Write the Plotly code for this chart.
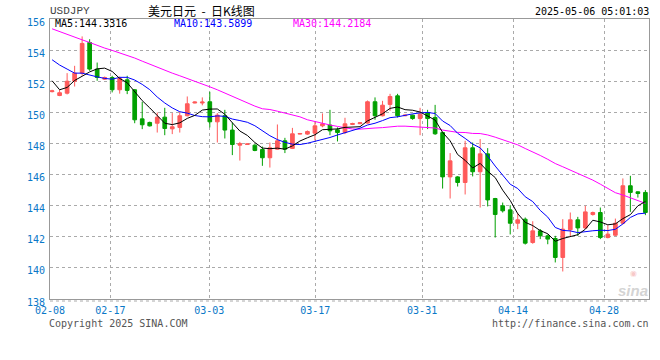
import plotly.graph_objects as go
import pandas as pd

# ---------------- data ----------------
opens = [151.33, 151.08, 151.23, 152.00, 152.52, 154.49, 152.78, 152.13, 152.24, 151.45,
         152.09, 151.45, 149.58, 149.35, 149.30, 149.69, 148.94, 149.03, 149.78, 150.60,
         150.60, 150.68, 149.39, 149.78, 148.86, 147.89, 147.93, 147.89, 147.61, 147.08,
         147.63, 148.17, 147.68, 148.60, 148.60, 148.66, 149.13, 149.18, 148.88, 148.70,
         149.22, 149.27, 149.31, 150.68, 149.78, 150.51, 151.06, 149.78, 149.82, 149.60,
         149.99, 149.67, 148.70, 145.85, 145.85, 145.49, 147.72, 146.18, 147.33, 144.46,
         143.99, 143.73, 142.87, 143.13, 141.63, 142.38, 142.06, 141.89, 140.67, 142.45,
         143.09, 142.57, 143.43, 143.56, 141.95, 142.10, 142.87, 145.28, 144.89, 144.85]
highs = [151.45, 151.45, 152.52, 152.99, 154.88, 154.70, 153.20, 152.30, 152.35, 152.30,
         152.35, 151.50, 150.68, 149.40, 149.99, 150.29, 149.95, 150.03, 151.02, 150.70,
         150.96, 151.32, 149.95, 150.16, 149.35, 148.10, 148.00, 147.95, 147.80, 148.06,
         149.22, 148.36, 149.00, 148.67, 148.83, 149.39, 149.93, 150.16, 149.03, 149.65,
         149.33, 149.36, 150.76, 150.96, 150.74, 151.19, 151.19, 149.86, 149.85, 150.29,
         150.16, 150.48, 148.75, 147.38, 145.90, 148.17, 148.06, 148.28, 147.70, 144.50,
         144.20, 144.03, 143.52, 143.24, 143.00, 142.50, 142.15, 142.06, 143.13, 143.56,
         143.28, 143.99, 143.62, 143.88, 142.75, 143.17, 145.75, 145.92, 144.92, 145.00]
lows = [151.28, 151.04, 151.15, 151.66, 152.35, 152.67, 152.03, 152.08, 151.28, 151.20,
        151.17, 149.30, 148.92, 149.09, 148.70, 148.53, 148.60, 148.70, 149.74, 150.58,
        150.45, 149.03, 148.06, 148.32, 147.25, 146.90, 147.90, 147.50, 146.56, 146.45,
        147.60, 147.38, 147.64, 148.58, 148.55, 148.19, 149.04, 148.53, 148.13, 148.60,
        149.18, 149.24, 149.27, 149.52, 149.74, 150.10, 149.67, 149.75, 149.52, 148.53,
        148.92, 148.55, 145.10, 144.46, 145.23, 144.72, 145.88, 143.88, 143.95, 141.95,
        143.56, 142.15, 142.49, 141.50, 141.55, 141.85, 141.52, 140.35, 139.77, 142.02,
        142.06, 142.50, 143.36, 141.85, 141.90, 142.05, 142.80, 143.60, 144.52, 143.39]
closes = [151.38, 151.26, 152.00, 152.52, 154.43, 152.78, 152.24, 152.24, 151.45, 152.18,
          151.41, 149.52, 149.20, 149.13, 149.69, 148.96, 149.07, 149.78, 150.55, 150.66,
          150.66, 149.39, 149.82, 148.86, 147.93, 147.99, 147.97, 147.55, 147.08, 147.72,
          148.17, 147.63, 148.62, 148.64, 148.77, 149.13, 149.26, 148.81, 148.70, 149.26,
          149.28, 149.33, 150.68, 149.78, 150.46, 151.02, 149.78, 149.82, 149.60, 149.88,
          149.60, 148.62, 145.85, 146.88, 145.49, 147.72, 146.18, 147.33, 144.37, 143.43,
          143.67, 142.87, 143.09, 141.59, 142.38, 142.06, 141.85, 140.67, 142.49, 143.09,
          142.57, 143.60, 143.56, 141.95, 142.17, 142.87, 145.28, 144.85, 144.78, 143.56]

# moving-average values before a full window exists
ma5_head = [152.03, 151.45, 151.60, 152.05]
ma10_head = [153.38, 153.04, 152.78, 152.52, 152.52, 152.39, 152.28, 152.18, 152.13]
ma30_head = [155.37, 155.18, 155.01, 154.84, 154.66, 154.49, 154.30, 154.13, 153.98, 153.83,
             153.68, 153.49, 153.29, 153.10, 152.89, 152.67, 152.52, 152.35, 152.18, 151.96,
             151.79, 151.64, 151.45, 151.23, 151.02, 150.81, 150.59, 150.40, 150.23]

tick_labels = ["02-08", "02-17", "03-03", "03-17", "03-31", "04-14", "04-28"]
ma_texts = ["MA5:144.3316", "MA10:143.5899", "MA30:144.2184"]

# ---------------- derived series ----------------
idx = list(range(len(closes)))
s = pd.Series(closes)


def moving(n, head):
    m = s.rolling(n).mean()
    m.iloc[:len(head)] = head
    return m.tolist()


ma5 = moving(5, ma5_head)
ma10 = moving(10, ma10_head)
ma30 = moving(30, ma30_head)

RED = "#FF5A5A"
GREEN = "#00A000"
AXBLUE = "#0A78C8"
MONO = "DejaVu Sans Mono"

W, H = 660, 360
ML, MR, MT, MB = 50, 11, 19, 61
PW, PH = W - ML - MR, H - MT - MB

fig = go.Figure()
fig.add_trace(go.Candlestick(
    x=idx, open=opens, high=highs, low=lows, close=closes,
    increasing=dict(line=dict(color=RED, width=1), fillcolor=RED),
    decreasing=dict(line=dict(color=GREEN, width=1), fillcolor=GREEN),
    whiskerwidth=0, hoverinfo="skip", showlegend=False))
for vals, col in [(ma30, "#FF00FF"), (ma10, "#0000FF"), (ma5, "#000000")]:
    fig.add_trace(go.Scatter(x=idx, y=vals, mode="lines",
                             line=dict(color=col, width=1),
                             hoverinfo="skip", showlegend=False))

tick_pos = [-0.27, 7.76, 20.93, 35.04, 49.27, 61.38, 73.49]

fig.update_layout(
    width=W, height=H,
    margin=dict(l=ML, r=MR, t=MT, b=MB, autoexpand=False),
    paper_bgcolor="white", plot_bgcolor="white",
    showlegend=False,
    xaxis=dict(range=[-0.28, 79.48], rangeslider=dict(visible=False),
               tickmode="array", tickvals=tick_pos, ticktext=tick_labels,
               showgrid=True, gridcolor="#AAAAAA", griddash="dot", gridwidth=1,
               showline=True, linecolor="#999999", linewidth=1, mirror=True,
               zeroline=False, ticks="", automargin=False, ticklabelstandoff=2,
               tickfont=dict(family=MONO, size=10, color=AXBLUE)),
    yaxis=dict(range=[138, 156], tickmode="array",
               tickvals=[138, 140, 142, 144, 146, 148, 150, 152, 154, 156],
               showgrid=True, gridcolor="#AAAAAA", griddash="dot", gridwidth=1,
               showline=True, linecolor="#999999", linewidth=1, mirror=True,
               zeroline=False, ticks="", ticklabelshift=3, ticklabelstandoff=2,
               automargin=False,
               tickfont=dict(family=MONO, size=10, color=AXBLUE)),
)


def px(x, y):
    # page pixels -> paper coordinates of the plot area
    return (x - ML) / PW, (H - MB - y) / PH


# dotted rule under the plot
x0, y0 = px(50, 301)
x1, _ = px(650, 301)
fig.add_shape(type="line", xref="paper", yref="paper", x0=x0, x1=x1,
              y0=y0, y1=y0, line=dict(color="#AAAAAA", width=1, dash="dot"))


def note(text, x, y, xanchor, color, size=10, family=MONO):
    xp, yp = px(x, y)
    fig.add_annotation(text=text, x=xp, y=yp, xref="paper", yref="paper",
                       xanchor=xanchor, yanchor="middle", showarrow=False,
                       borderpad=0, font=dict(family=family, size=size, color=color))


NB = "\u00a0"
note("USDJPY", 49, 11, "left", "#444444", size=11, family="Liberation Mono")
note("美元日元" + NB * 2 + "-" + NB * 2 + "日K线图", 201, 10.5, "center", "#000000",
     size=12, family="Noto Sans CJK SC")
note("2025-05-06 05:01:03", 650, 11.5, "right", "#000000")
note(ma_texts[0], 54, 23.5, "left", "#000000")
note(ma_texts[1], 173, 23.5, "left", "#0000FF")
note(ma_texts[2], 292, 23.5, "left", "#FF00FF")
note("Copyright 2025 SINA.COM", 48, 323.5, "left", "#555555")
note("http://finance.sina.com.cn", 650, 323.5, "right", "#555555")
note("<span style='font-size:8px;color:rgba(240,140,140,0.6)'>◉</span><br>"
     "<b><i>sina</i></b>", 633, 284, "center", "rgba(200,200,200,0.8)", size=15,
     family="Liberation Sans")

fig.write_html("out.html", config={"displayModeBar": False},
               post_script="document.body.style.margin='0';"
                           "document.body.style.overflow='hidden';")
